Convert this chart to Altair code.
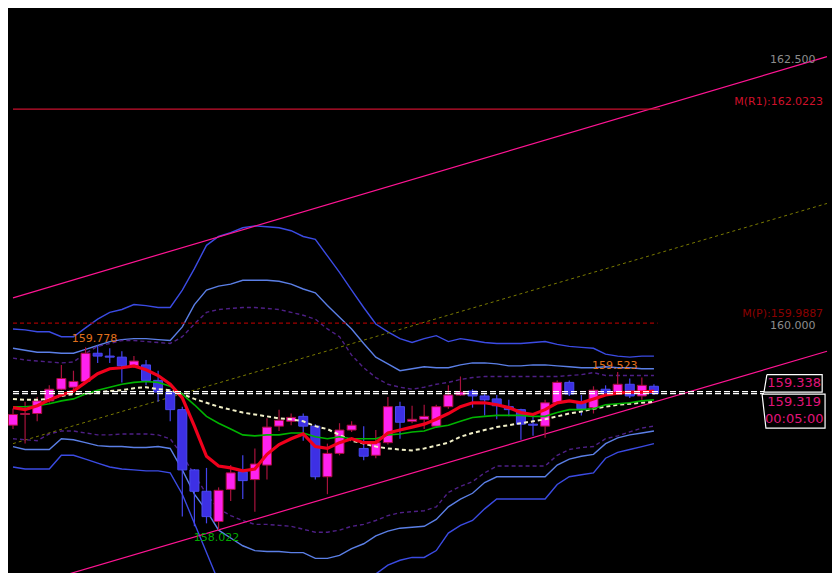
import altair as alt
import pandas as pd

# ---------------- data (USD/JPY, M5) ----------------
opens = [159.018, 159.120, 159.129, 159.249, 159.360, 159.379, 159.434, 159.702, 159.675, 159.665,
         159.582, 159.591, 159.444, 159.333, 159.166, 158.593, 158.390, 158.103, 158.408, 158.575,
         158.501, 158.639, 159.009, 159.055, 159.102, 159.009, 158.528, 158.750, 158.972, 158.797,
         158.732, 158.852, 159.194, 159.055, 159.074, 159.009, 159.194, 159.305, 159.342, 159.296,
         159.268, 159.194, 159.166, 159.028, 159.009, 159.231, 159.425, 159.240, 159.185, 159.360,
         159.314, 159.407, 159.296, 159.388]
highs = [159.175, 159.240, 159.286, 159.397, 159.591, 159.536, 159.758, 159.778, 159.749, 159.721,
         159.675, 159.638, 159.536, 159.360, 159.194, 158.602, 158.612, 158.427, 158.639, 158.732,
         158.797, 159.083, 159.166, 159.129, 159.129, 159.028, 158.843, 159.037, 159.055, 159.009,
         158.972, 159.286, 159.240, 159.203, 159.212, 159.212, 159.397, 159.481, 159.360, 159.314,
         159.305, 159.259, 159.175, 159.120, 159.259, 159.444, 159.444, 159.305, 159.388, 159.397,
         159.523, 159.462, 159.471, 159.407]
lows = [158.981, 158.843, 159.055, 159.231, 159.351, 159.333, 159.416, 159.610, 159.610, 159.425,
        159.564, 159.397, 159.240, 159.055, 158.149, 158.057, 158.085, 158.022, 158.297, 158.316,
        158.196, 158.501, 158.963, 159.018, 158.871, 158.501, 158.362, 158.732, 158.954, 158.686,
        158.704, 158.834, 158.889, 159.037, 158.981, 158.991, 159.175, 159.296, 159.185, 159.111,
        159.074, 159.102, 158.880, 158.917, 158.898, 159.222, 159.296, 159.111, 159.129, 159.305,
        159.305, 159.277, 159.259, 159.305]
closes = [159.120, 159.129, 159.249, 159.360, 159.462, 159.434, 159.702, 159.675, 159.665, 159.582,
          159.628, 159.444, 159.333, 159.166, 158.593, 158.390, 158.149, 158.399, 158.565, 158.491,
          158.649, 159.000, 159.065, 159.092, 159.009, 158.528, 158.750, 158.972, 159.018, 158.723,
          158.852, 159.194, 159.046, 159.074, 159.102, 159.194, 159.305, 159.333, 159.296, 159.259,
          159.203, 159.166, 159.028, 159.018, 159.231, 159.425, 159.314, 159.175, 159.351, 159.323,
          159.407, 159.296, 159.397, 159.319]

ma_red = [159.185, 159.166, 159.203, 159.259, 159.305, 159.342, 159.425, 159.508, 159.555, 159.564,
          159.582, 159.545, 159.490, 159.407, 159.277, 159.009, 158.723, 158.630, 158.612, 158.584,
          158.602, 158.741, 158.834, 158.889, 158.935, 158.815, 158.797, 158.852, 158.889, 158.852,
          158.852, 158.944, 158.972, 159.000, 159.028, 159.074, 159.129, 159.194, 159.231, 159.231,
          159.212, 159.185, 159.138, 159.120, 159.166, 159.231, 159.249, 159.231, 159.268, 159.305,
          159.323, 159.333, 159.333, 159.342]
ma_green = [159.194, 159.194, 159.203, 159.222, 159.249, 159.268, 159.314, 159.351, 159.379, 159.407,
            159.425, 159.434, 159.425, 159.388, 159.314, 159.212, 159.102, 159.037, 158.981, 158.926,
            158.917, 158.926, 158.926, 158.944, 158.944, 158.908, 158.889, 158.908, 158.889, 158.889,
            158.889, 158.926, 158.935, 158.954, 158.963, 159.000, 159.018, 159.055, 159.092, 159.102,
            159.111, 159.111, 159.111, 159.102, 159.102, 159.138, 159.166, 159.166, 159.175, 159.212,
            159.222, 159.231, 159.249, 159.259]
ma_yellow = [159.268, 159.259, 159.259, 159.268, 159.296, 159.314, 159.314, 159.333, 159.342, 159.351,
             159.370, 159.379, 159.360, 159.351, 159.314, 159.268, 159.231, 159.194, 159.166, 159.138,
             159.120, 159.102, 159.083, 159.074, 159.055, 159.009, 158.981, 158.926, 158.871, 158.843,
             158.815, 158.797, 158.787, 158.778, 158.797, 158.824, 158.852, 158.908, 158.944, 158.972,
             159.000, 159.018, 159.037, 159.055, 159.074, 159.102, 159.129, 159.148, 159.175, 159.194,
             159.212, 159.222, 159.231, 159.240]

bb3_up = [159.933, 159.924, 159.906, 159.906, 159.859, 159.859, 159.943, 160.026, 160.091, 160.118,
          160.165, 160.155, 160.137, 160.137, 160.303, 160.507, 160.728, 160.812, 160.849, 160.895,
          160.913, 160.904, 160.895, 160.867, 160.812, 160.784, 160.627, 160.470, 160.303, 160.137,
          159.980, 159.906, 159.841, 159.804, 159.841, 159.869, 159.813, 159.841, 159.823, 159.804,
          159.795, 159.795, 159.795, 159.804, 159.813, 159.786, 159.767, 159.758, 159.749, 159.693,
          159.675, 159.665, 159.675, 159.675]
bb2_up = [159.749, 159.730, 159.712, 159.712, 159.702, 159.702, 159.739, 159.776, 159.813, 159.832,
          159.841, 159.841, 159.832, 159.823, 159.952, 160.165, 160.303, 160.340, 160.359, 160.396,
          160.396, 160.396, 160.386, 160.359, 160.313, 160.276, 160.155, 160.044, 159.933, 159.795,
          159.665, 159.601, 159.536, 159.555, 159.573, 159.564, 159.564, 159.591, 159.610, 159.610,
          159.601, 159.582, 159.582, 159.591, 159.591, 159.582, 159.573, 159.564, 159.564, 159.573,
          159.564, 159.564, 159.555, 159.555]
bb1_up = [159.656, 159.638, 159.628, 159.619, 159.610, 159.619, 159.702, 159.767, 159.795, 159.823,
          159.823, 159.813, 159.804, 159.795, 159.859, 159.980, 160.091, 160.118, 160.128, 160.137,
          160.137, 160.128, 160.118, 160.091, 160.063, 160.026, 159.933, 159.859, 159.684, 159.564,
          159.471, 159.407, 159.379, 159.360, 159.379, 159.407, 159.425, 159.453, 159.471, 159.481,
          159.481, 159.481, 159.481, 159.481, 159.481, 159.481, 159.490, 159.499, 159.518, 159.490,
          159.490, 159.490, 159.490, 159.490]
bb1_dn = [158.889, 158.880, 158.871, 158.935, 158.963, 158.963, 158.944, 158.926, 158.926, 158.935,
          158.935, 158.935, 158.926, 158.889, 158.732, 158.547, 158.362, 158.223, 158.159, 158.112,
          158.075, 158.075, 158.066, 158.057, 158.029, 158.001, 158.001, 158.020, 158.057, 158.075,
          158.112, 158.159, 158.186, 158.196, 158.205, 158.242, 158.380, 158.436, 158.482, 158.565,
          158.630, 158.630, 158.630, 158.630, 158.630, 158.732, 158.787, 158.806, 158.815, 158.889,
          158.917, 158.954, 158.991, 159.009]
bb2_dn = [158.815, 158.787, 158.787, 158.787, 158.889, 158.880, 158.852, 158.824, 158.815, 158.815,
          158.806, 158.806, 158.815, 158.797, 158.593, 158.362, 158.205, 158.020, 157.946, 157.872,
          157.826, 157.817, 157.817, 157.807, 157.807, 157.752, 157.752, 157.780, 157.844, 157.891,
          157.965, 158.011, 158.039, 158.048, 158.057, 158.122, 158.242, 158.316, 158.371, 158.473,
          158.528, 158.528, 158.528, 158.528, 158.528, 158.639, 158.695, 158.723, 158.741, 158.843,
          158.898, 158.926, 158.944, 158.963]
bb3_dn = [158.621, 158.602, 158.602, 158.602, 158.732, 158.732, 158.695, 158.658, 158.621, 158.602,
          158.593, 158.584, 158.584, 158.565, 158.362, 158.085, 157.807, 157.530, 157.345, 157.207,
          157.160, 157.142, 157.142, 157.133, 157.133, 157.068, 157.068, 157.105, 157.253, 157.438,
          157.604, 157.687, 157.734, 157.761, 157.761, 157.826, 157.992, 158.066, 158.112, 158.223,
          158.316, 158.316, 158.316, 158.316, 158.316, 158.454, 158.528, 158.547, 158.565, 158.704,
          158.760, 158.787, 158.815, 158.843]

# trend channel (two anchor bars at the left and right edges)
chan_x = [0.0, 67.31]
chan_up = [160.229, 162.522]
chan_mid = [158.843, 161.126]
chan_dn = [157.448, 159.721]

# levels
pivot_r1 = 162.0223
pivot_p = 159.9887
bid = 159.319
ask = 159.338
round_levels = ["162.500", "160.000"]
high_label = "159.778"
high2_label = "159.523"
low_label = "158.022"
timer = "00:05:00"

# ---------------- scales ----------------
XS = alt.Scale(domain=[0, 67.31], nice=False, zero=False)
YS = alt.Scale(domain=[157.613, 162.984], nice=False, zero=False)
FONT = "DejaVu Sans"

n = len(opens)
idx = list(range(n))
lines_df = pd.DataFrame({
    "i": idx, "red": ma_red, "green": ma_green, "yel": ma_yellow,
    "u3": bb3_up, "u2": bb2_up, "u1": bb1_up, "d1": bb1_dn, "d2": bb2_dn, "d3": bb3_dn,
})
cd = pd.DataFrame({"i": idx, "o": opens, "h": highs, "l": lows, "c": closes})
cd["dir"] = ["bull" if c >= o else "bear" for o, c in zip(opens, closes)]
chan_df = pd.DataFrame({"x": chan_x, "up": chan_up, "mid": chan_mid, "dn": chan_dn})


def X(field="i"):
    return alt.X(f"{field}:Q", scale=XS, axis=None)


def Y(field):
    return alt.Y(f"{field}:Q", scale=YS, axis=None)


def ser(col, color, width, dash=None, df=lines_df, xf="i"):
    kw = dict(color=color, strokeWidth=width, clip=True)
    if dash:
        kw["strokeDash"] = dash
    return alt.Chart(df).mark_line(**kw).encode(x=X(xf), y=Y(col))


layers = []
# bands
layers += [ser("u3", "#3B4BE3", 1.4), ser("d3", "#3B4BE3", 1.4),
           ser("u2", "#5B7FE6", 1.4), ser("d2", "#5B7FE6", 1.4),
           ser("u1", "#4E1F86", 1.4, [4, 3]), ser("d1", "#4E1F86", 1.4, [4, 3])]
# channel
layers += [ser("up", "#FF1493", 1.2, df=chan_df, xf="x"),
           ser("dn", "#FF1493", 1.2, df=chan_df, xf="x"),
           ser("mid", "#7A7A00", 1.0, [3, 3], df=chan_df, xf="x")]

# pivot levels
lv = pd.DataFrame({"x0": [0.0, 0.0], "x1": [53.5, 53.3], "p": [pivot_r1, pivot_p],
                   "name": ["r1", "p"]})
layers.append(alt.Chart(lv[lv.name == "r1"]).mark_rule(color="#C8102E", strokeWidth=1.2, clip=True)
              .encode(x=X("x0"), x2="x1:Q", y=Y("p")))
layers.append(alt.Chart(lv[lv.name == "p"]).mark_rule(color="#A00000", strokeWidth=1.2,
                                                      strokeDash=[4, 3], clip=True)
              .encode(x=X("x0"), x2="x1:Q", y=Y("p")))

# candles
dir_dom = ["bull", "bear"]
wicks = alt.Chart(cd).mark_rule(strokeWidth=1.2, clip=True).encode(
    x=X(), y=Y("l"), y2="h:Q",
    color=alt.Color("dir:N", scale=alt.Scale(domain=dir_dom, range=["#A8123C", "#4444EE"]), legend=None))
bodies = alt.Chart(cd).mark_bar(size=9, strokeWidth=1, clip=True).encode(
    x=X(), y=Y("o"), y2="c:Q",
    fill=alt.Fill("dir:N", scale=alt.Scale(domain=dir_dom, range=["#FF22EE", "#3D30E4"]), legend=None),
    stroke=alt.Stroke("dir:N", scale=alt.Scale(domain=dir_dom, range=["#A8123C", "#4A4AF0"]), legend=None))
layers += [wicks, bodies]

# moving averages
layers += [ser("yel", "#F2F0C8", 2.0, [4, 3]), ser("green", "#00B400", 1.6), ser("red", "#F0001C", 3.2)]

# bid / ask lines
ba = pd.DataFrame({"x0": [0.0, 0.0], "x1": [62.1, 62.1], "p": [bid, ask]})
layers.append(alt.Chart(ba).mark_rule(color="#FFFFFF", strokeWidth=1.3, strokeDash=[6, 3], clip=True)
              .encode(x=X("x0"), x2="x1:Q", y=Y("p")))

# right side labels
rl = pd.DataFrame({
    "t": round_levels + [f"M(R1):{pivot_r1:.4f}", f"M(P):{pivot_p:.4f}"],
    "x": [66.35, 66.35, 66.99, 66.99],
    "p": [162.485, 159.963, 162.087, 160.074],
    "col": ["#8C8C8C", "#8C8C8C", "#D0102A", "#8B0000"],
})
layers.append(alt.Chart(rl).mark_text(align="right", baseline="middle", font=FONT, fontSize=11)
              .encode(x=X("x"), y=Y("p"), text="t:N", color=alt.Color("col:N", scale=None)))

# high / low labels
hl = pd.DataFrame({
    "t": [high_label, high2_label, low_label],
    "x": [6.73, 49.76, 16.83],
    "p": [159.841, 159.582, 157.946],
    "col": ["#E0701C", "#E0701C", "#00A800"],
})
layers.append(alt.Chart(hl).mark_text(align="center", baseline="middle", font=FONT, fontSize=11)
              .encode(x=X("x"), y=Y("p"), text="t:N", color=alt.Color("col:N", scale=None)))

# price tags on the right
boxes = pd.DataFrame({
    "b": ["a"] * 5 + ["b"] * 5,
    "o": list(range(5)) * 2,
    "x": [62.34, 66.91, 66.91, 62.10, 62.34, 61.94, 67.15, 67.15, 62.26, 61.94],
    "p": [159.499, 159.499, 159.333, 159.333, 159.499, 159.314, 159.314, 158.991, 158.991, 159.314],
})
layers.append(alt.Chart(boxes).mark_line(color="#FFFFFF", strokeWidth=1.2, clip=False)
              .encode(x=X("x"), y=Y("p"), detail="b:N", order="o:Q"))
tags = pd.DataFrame({
    "t": [f"{ask:.3f}", f"{bid:.3f}", timer],
    "x": [64.60, 64.60, 64.60],
    "p": [159.416, 159.240, 159.074],
})
layers.append(alt.Chart(tags).mark_text(align="center", baseline="middle", font=FONT, fontSize=13,
                                        color="#E0147A")
              .encode(x=X("x"), y=Y("p"), text="t:N"))

chart = alt.layer(*layers).properties(
    width=824, height=565, padding=0,
    autosize=alt.AutoSizeParams(type="none"),
).configure(background="#000000").configure_view(stroke=None)

chart.save("out.html", embed_options={"renderer": "svg", "actions": False})
